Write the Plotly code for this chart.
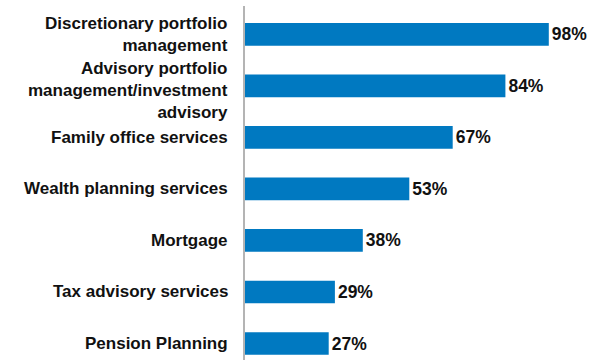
import plotly.graph_objects as go

# Share of firms offering each service
services = [
    "Discretionary portfolio<br>management",
    "Advisory portfolio<br>management/investment<br>advisory",
    "Family office services",
    "Wealth planning services",
    "Mortgage",
    "Tax advisory services",
    "Pension Planning",
]
shares = [98, 84, 67, 53, 38, 29, 27]

BAR_BLUE = "#0079C1"
TEXT = "#111111"
FONT = "Liberation Sans, Arial, sans-serif"

fig = go.Figure(
    go.Bar(
        x=shares,
        y=services,
        orientation="h",
        marker=dict(color=BAR_BLUE, line=dict(width=0)),
        text=[f"{v}%" for v in shares],
        textposition="outside",
        textfont=dict(family=FONT, size=17.5, color=TEXT, weight="bold"),
        cliponaxis=False,
        width=0.44,
    )
)

# Category labels drawn as right-aligned annotations left of the axis;
# the three-line label sits a little lower than its bar's centre.
label_offsets = {services[1]: -5}
for name in services:
    fig.add_annotation(
        x=0,
        xref="paper",
        y=name,
        yref="y",
        text=name,
        showarrow=False,
        xanchor="right",
        yanchor="middle",
        align="right",
        xshift=-15,
        yshift=label_offsets.get(name, 0),
        font=dict(family=FONT, size=17, color=TEXT, weight="bold"),
    )

fig.update_layout(
    width=599,
    height=360,
    margin=dict(l=245, r=44, t=6, b=0),
    paper_bgcolor="white",
    plot_bgcolor="white",
    showlegend=False,
    font=dict(family=FONT, size=17, color=TEXT),
    bargap=0.56,
)

fig.update_xaxes(
    range=[0, 100],
    showgrid=False,
    zeroline=False,
    showticklabels=False,
    showline=False,
)

fig.update_yaxes(
    range=[6.32, -0.55],
    showgrid=False,
    zeroline=False,
    showline=True,
    linecolor="#b4b4b4",
    linewidth=2,
    ticks="",
    showticklabels=False,
)

fig.write_html("out.html")
